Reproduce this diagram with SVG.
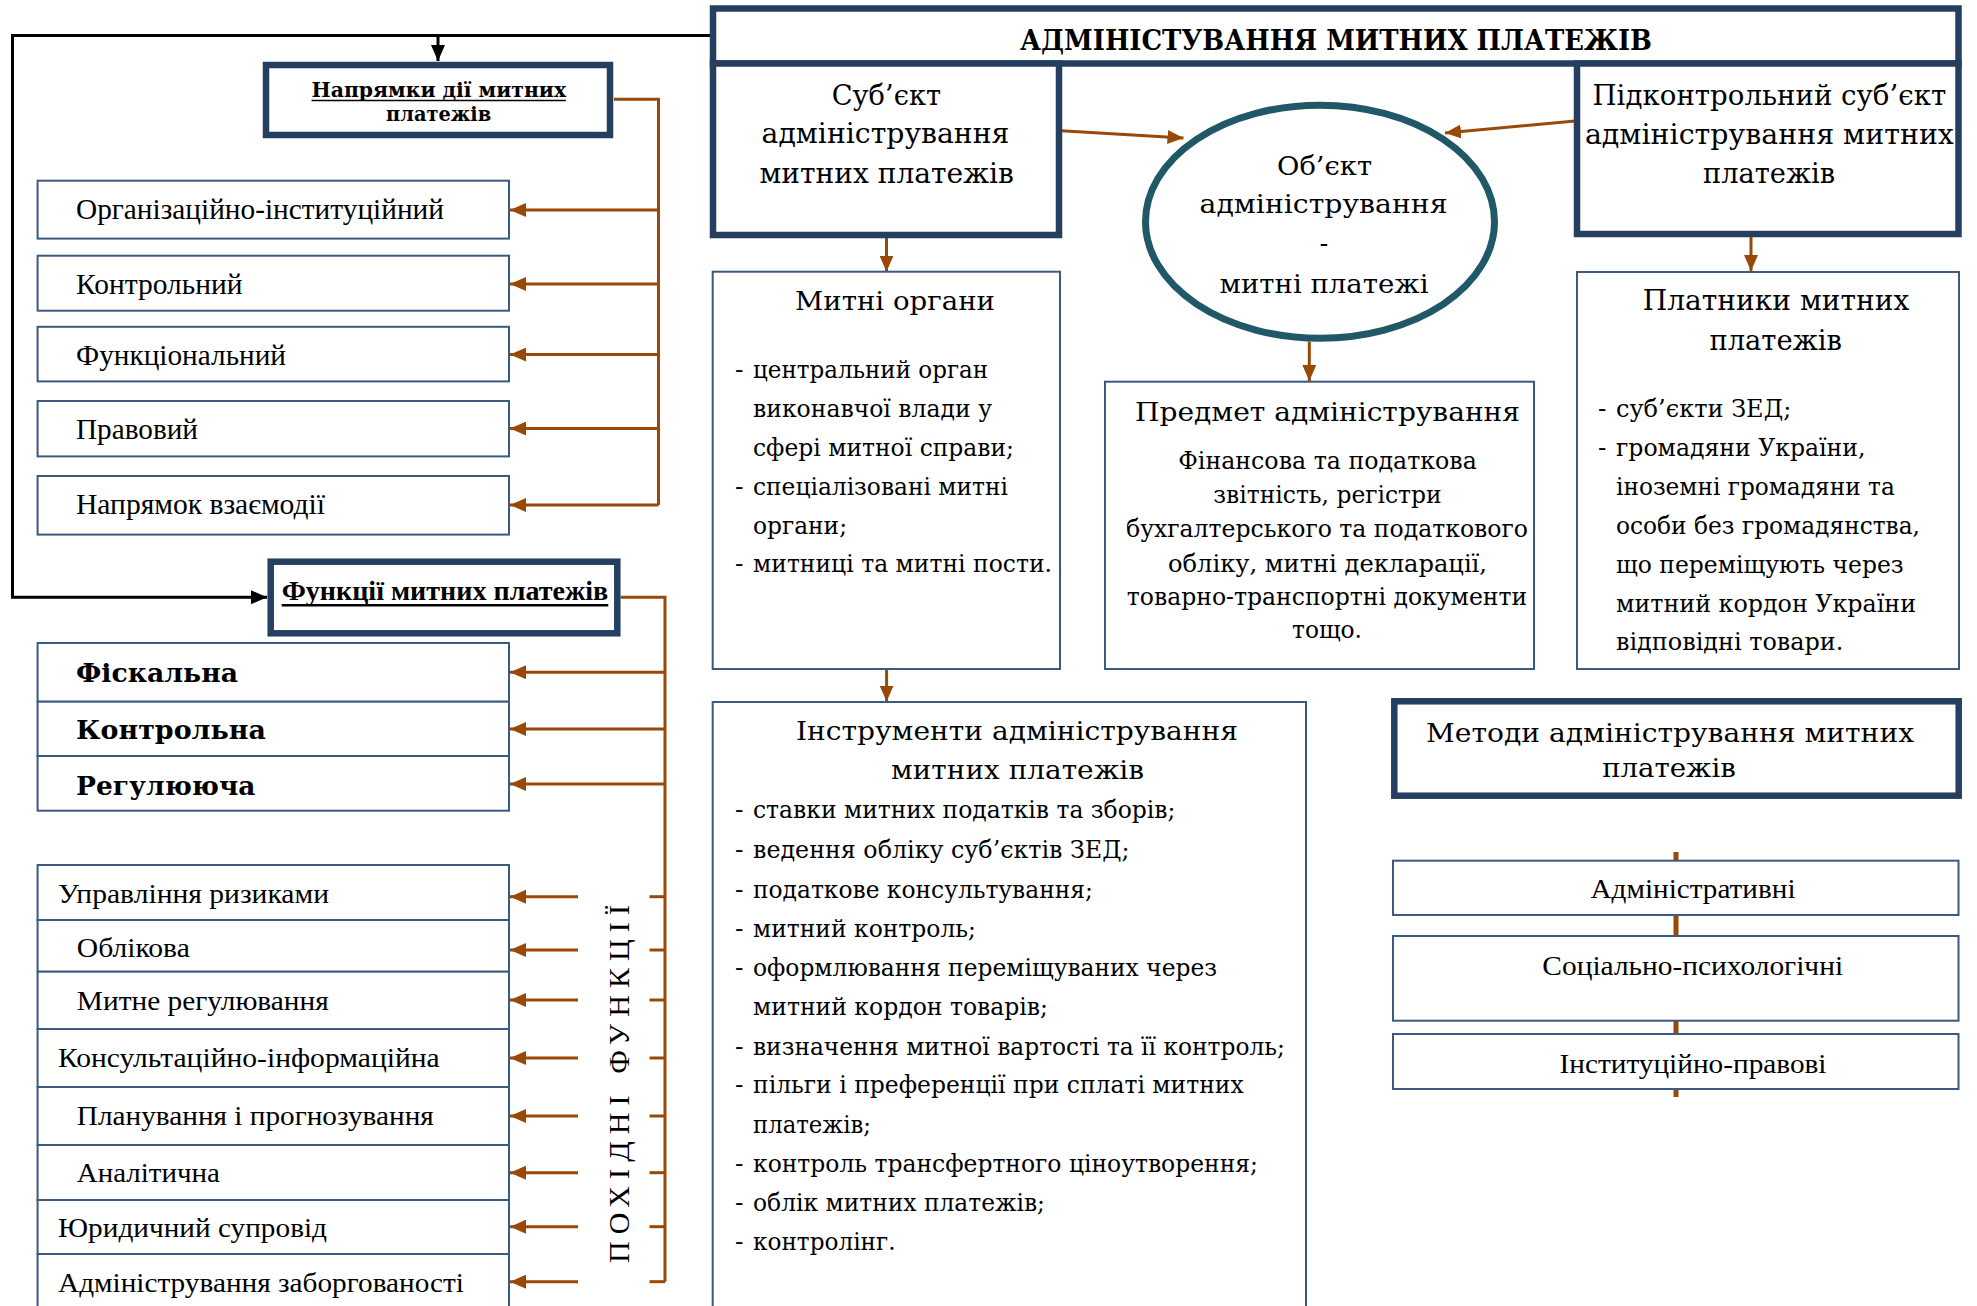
<svg xmlns="http://www.w3.org/2000/svg" width="1977" height="1306" viewBox="0 0 1977 1306">
  <defs>
    <marker id="arrBrown" viewBox="0 0 16 14" refX="16" refY="7" markerWidth="16" markerHeight="14" markerUnits="userSpaceOnUse" orient="auto">
      <path d="M0,0 L16,7 L0,14 z" fill="#984807"/>
    </marker>
    <marker id="arrBlack" viewBox="0 0 16 14" refX="16" refY="7" markerWidth="16" markerHeight="14" markerUnits="userSpaceOnUse" orient="auto">
      <path d="M0,0 L16,7 L0,14 z" fill="#000"/>
    </marker>
  </defs>
  <style>
    .thick{fill:#fff;stroke:#243f60;stroke-width:6.5}
    .thin{fill:#fff;stroke:#3b5a82;stroke-width:2}
    .oval{fill:#fff;stroke:#215868;stroke-width:7}
    .tr{font-family:"Liberation Serif","Times New Roman",serif;fill:#000}
    .bk{font-family:"DejaVu Serif","Liberation Serif",serif;fill:#000}
    .b{font-weight:bold}
    .c{text-anchor:middle}
    .br{fill:none;stroke:#984807;stroke-width:3}
    .brA{fill:none;stroke:#984807;stroke-width:3;marker-end:url(#arrBrown)}
    .blA{fill:none;stroke:#000;stroke-width:3;marker-end:url(#arrBlack)}
    .ul{stroke:#000}
  </style>
  <rect width="1977" height="1306" fill="#fff"/>

  <!-- connectors (drawn first so boxes sit on top) -->
  <g id="connectors">
    <!-- black feed from the main header to both left-hand groups -->
    <path class="blA" d="M710,35.5 H12.5 V597.3 H267"/>
    <path class="blA" d="M438,35.5 V61"/>
    <!-- directions trunk -->
    <path class="br" d="M614,99.3 H658.5 V505"/>
    <path class="brA" d="M658.5,210 H510"/>
    <path class="brA" d="M658.5,284 H510"/>
    <path class="brA" d="M658.5,354.6 H510"/>
    <path class="brA" d="M658.5,428.6 H510"/>
    <path class="brA" d="M658.5,505 H510"/>
    <!-- functions trunk -->
    <path class="br" d="M620.7,597.3 H665 V1281.7"/>
    <path class="brA" d="M665,672.3 H510"/>
    <path class="brA" d="M665,729 H510"/>
    <path class="brA" d="M665,784 H510"/>
    <!-- derived functions: short arrows plus stubs on the trunk -->
    <path class="brA" d="M578,896.7 H510"/><path class="br" d="M649.5,896.7 H665"/>
    <path class="brA" d="M578,950 H510"/><path class="br" d="M649.5,950 H665"/>
    <path class="brA" d="M578,1000 H510"/><path class="br" d="M649.5,1000 H665"/>
    <path class="brA" d="M578,1058 H510"/><path class="br" d="M649.5,1058 H665"/>
    <path class="brA" d="M578,1116 H510"/><path class="br" d="M649.5,1116 H665"/>
    <path class="brA" d="M578,1172.7 H510"/><path class="br" d="M649.5,1172.7 H665"/>
    <path class="brA" d="M578,1226.7 H510"/><path class="br" d="M649.5,1226.7 H665"/>
    <path class="brA" d="M578,1281.7 H510"/><path class="br" d="M649.5,1281.7 H665"/>
    <!-- right-hand block -->
    <path class="brA" d="M1061,130.7 L1183.5,138"/>
    <path class="brA" d="M1575,121 L1445,133"/>
    <path class="brA" d="M886.5,238 V271.7"/>
    <path class="brA" d="M1309.3,341.7 V381"/>
    <path class="brA" d="M1751,237 V271"/>
    <path class="brA" d="M886.6,669 V701.5"/>
    <!-- methods spine -->
    <path d="M1676,852 V1097" stroke="#984807" stroke-width="5" fill="none"/>
  </g>

  <!-- main header -->
  <g id="title">
    <rect class="thick" x="713" y="8.5" width="1245.5" height="55"/>
    <text class="bk b c" x="1336" y="50" font-size="28" textLength="632" lengthAdjust="spacingAndGlyphs">АДМІНІСТУВАННЯ МИТНИХ ПЛАТЕЖІВ</text>
  </g>

  <!-- directions of action -->
  <g id="directions">
    <rect class="thick" x="266" y="65" width="344" height="70"/>
    <text class="bk b c" x="438.8" y="97" font-size="20" textLength="254.5" lengthAdjust="spacingAndGlyphs">Напрямки дії митних</text>
    <line class="ul" x1="311.6" y1="100.5" x2="566" y2="100.5" stroke-width="1.6"/>
    <text class="bk b c" x="438.6" y="121.4" font-size="20" textLength="105" lengthAdjust="spacingAndGlyphs">платежів</text>
  </g>
  <g id="dir-org">
    <rect class="thin" x="37.6" y="180.7" width="471.4" height="57.9"/>
    <text class="tr" x="76" y="218.6" font-size="29" textLength="368" lengthAdjust="spacingAndGlyphs">Організаційно-інституційний</text>
  </g>
  <g id="dir-control">
    <rect class="thin" x="37.6" y="255.7" width="471.4" height="55"/>
    <text class="tr" x="76" y="293.6" font-size="29" textLength="166.5" lengthAdjust="spacingAndGlyphs">Контрольний</text>
  </g>
  <g id="dir-func">
    <rect class="thin" x="37.6" y="326.8" width="471.4" height="54.6"/>
    <text class="tr" x="76" y="365" font-size="29" textLength="210" lengthAdjust="spacingAndGlyphs">Функціональний</text>
  </g>
  <g id="dir-legal">
    <rect class="thin" x="37.6" y="401" width="471.4" height="55.4"/>
    <text class="tr" x="76" y="438.6" font-size="29" textLength="122" lengthAdjust="spacingAndGlyphs">Правовий</text>
  </g>
  <g id="dir-interact">
    <rect class="thin" x="37.6" y="476" width="471.4" height="58.6"/>
    <text class="tr" x="76" y="514.3" font-size="29" textLength="249" lengthAdjust="spacingAndGlyphs">Напрямок взаємодії</text>
  </g>

  <!-- functions -->
  <g id="functions">
    <rect class="thick" x="270.7" y="561.7" width="346.6" height="71.6"/>
    <text class="tr b" x="281.7" y="600" font-size="28" textLength="326.6" lengthAdjust="spacingAndGlyphs">Функції митних платежів</text>
    <line class="ul" x1="281.7" y1="605.3" x2="608.3" y2="605.3" stroke-width="2.5"/>
  </g>
  <g id="fn-fiscal">
    <rect class="thin" x="37.6" y="643" width="471.4" height="58.7"/>
    <text class="bk b" x="76" y="681.7" font-size="26" textLength="162" lengthAdjust="spacingAndGlyphs">Фіскальна</text>
  </g>
  <g id="fn-control">
    <rect class="thin" x="37.6" y="701.7" width="471.4" height="54.3"/>
    <text class="bk b" x="76" y="739" font-size="26" textLength="190" lengthAdjust="spacingAndGlyphs">Контрольна</text>
  </g>
  <g id="fn-regul">
    <rect class="thin" x="37.6" y="756" width="471.4" height="54.7"/>
    <text class="bk b" x="76" y="795" font-size="26" textLength="179.5" lengthAdjust="spacingAndGlyphs">Регулююча</text>
  </g>

  <!-- derived functions -->
  <g id="fn-risk">
    <rect class="thin" x="37.6" y="865" width="471.4" height="55"/>
    <text class="tr" x="58" y="903" font-size="28" textLength="271" lengthAdjust="spacingAndGlyphs">Управління ризиками</text>
  </g>
  <g id="fn-account">
    <rect class="thin" x="37.6" y="920" width="471.4" height="51.7"/>
    <text class="tr" x="76.8" y="956.7" font-size="28" textLength="113" lengthAdjust="spacingAndGlyphs">Облікова</text>
  </g>
  <g id="fn-customs">
    <rect class="thin" x="37.6" y="971.7" width="471.4" height="57.3"/>
    <text class="tr" x="76.8" y="1010" font-size="28" textLength="252" lengthAdjust="spacingAndGlyphs">Митне регулювання</text>
  </g>
  <g id="fn-consult">
    <rect class="thin" x="37.6" y="1029" width="471.4" height="58"/>
    <text class="tr" x="58" y="1066.7" font-size="28" textLength="381.7" lengthAdjust="spacingAndGlyphs">Консультаційно-інформаційна</text>
  </g>
  <g id="fn-plan">
    <rect class="thin" x="37.6" y="1087" width="471.4" height="58"/>
    <text class="tr" x="76.8" y="1125" font-size="28" textLength="357" lengthAdjust="spacingAndGlyphs">Планування і прогнозування</text>
  </g>
  <g id="fn-analytic">
    <rect class="thin" x="37.6" y="1145" width="471.4" height="55"/>
    <text class="tr" x="76.8" y="1181.7" font-size="28" textLength="143" lengthAdjust="spacingAndGlyphs">Аналітична</text>
  </g>
  <g id="fn-legal">
    <rect class="thin" x="37.6" y="1200" width="471.4" height="54"/>
    <text class="tr" x="58" y="1236.7" font-size="28" textLength="269" lengthAdjust="spacingAndGlyphs">Юридичний супровід</text>
  </g>
  <g id="fn-debt">
    <rect class="thin" x="37.6" y="1254" width="471.4" height="70"/>
    <text class="tr" x="58" y="1291.7" font-size="28" textLength="406" lengthAdjust="spacingAndGlyphs">Адміністрування заборгованості</text>
  </g>
  <g id="derived-label">
    <text class="tr" transform="translate(628.6,1263) rotate(-90)" font-size="30" textLength="358" lengthAdjust="spacing">ПОХІДНІ ФУНКЦІЇ</text>
  </g>

  <!-- subject -->
  <g id="subject">
    <rect class="thick" x="713" y="63.5" width="346" height="171.5"/>
    <text class="bk c" x="886.4" y="105" font-size="27" textLength="109.3" lengthAdjust="spacingAndGlyphs">Суб’єкт</text>
    <text class="bk c" x="885.5" y="143" font-size="27" textLength="247.8" lengthAdjust="spacingAndGlyphs">адміністрування</text>
    <text class="bk c" x="886.6" y="182.7" font-size="27" textLength="254.4" lengthAdjust="spacingAndGlyphs">митних платежів</text>
  </g>

  <!-- object -->
  <g id="object">
    <ellipse class="oval" cx="1320" cy="221.7" rx="174.5" ry="116.5"/>
    <text class="bk c" x="1324.5" y="175" font-size="26" textLength="95" lengthAdjust="spacingAndGlyphs">Об’єкт</text>
    <text class="bk c" x="1323.5" y="213" font-size="26" textLength="248" lengthAdjust="spacingAndGlyphs">адміністрування</text>
    <text class="bk c" x="1324" y="252" font-size="26">-</text>
    <text class="bk c" x="1324" y="293.3" font-size="26" textLength="209" lengthAdjust="spacingAndGlyphs">митні платежі</text>
  </g>

  <!-- controlled subject -->
  <g id="controlled">
    <rect class="thick" x="1577" y="63.5" width="381.5" height="170.5"/>
    <text class="bk c" x="1769.4" y="105" font-size="27" textLength="353.8" lengthAdjust="spacingAndGlyphs">Підконтрольний суб’єкт</text>
    <text class="bk c" x="1769.4" y="143.7" font-size="27" textLength="369" lengthAdjust="spacingAndGlyphs">адміністрування митних</text>
    <text class="bk c" x="1769" y="183" font-size="27" textLength="132" lengthAdjust="spacingAndGlyphs">платежів</text>
  </g>

  <!-- customs authorities -->
  <g id="authorities">
    <rect class="thin" x="712.7" y="271.7" width="347.3" height="397.3"/>
    <text class="bk c" x="895" y="310" font-size="26" textLength="200" lengthAdjust="spacingAndGlyphs">Митні органи</text>
    <text class="bk" x="735" y="378.3" font-size="25">-</text>
    <text class="bk" x="753" y="378.3" font-size="25" textLength="235" lengthAdjust="spacingAndGlyphs">центральний орган</text>
    <text class="bk" x="753" y="417" font-size="25" textLength="239" lengthAdjust="spacingAndGlyphs">виконавчої влади у</text>
    <text class="bk" x="753" y="456" font-size="25" textLength="261" lengthAdjust="spacingAndGlyphs">сфері митної справи;</text>
    <text class="bk" x="735" y="494.8" font-size="25">-</text>
    <text class="bk" x="753" y="494.8" font-size="25" textLength="255" lengthAdjust="spacingAndGlyphs">спеціалізовані митні</text>
    <text class="bk" x="753" y="533.6" font-size="25" textLength="94" lengthAdjust="spacingAndGlyphs">органи;</text>
    <text class="bk" x="735" y="572.4" font-size="25">-</text>
    <text class="bk" x="753" y="572.4" font-size="25" textLength="299" lengthAdjust="spacingAndGlyphs">митниці та митні пости.</text>
  </g>

  <!-- subject matter -->
  <g id="matter">
    <rect class="thin" x="1105" y="381.7" width="429" height="287.3"/>
    <text class="bk c" x="1327.5" y="420.7" font-size="26" textLength="385" lengthAdjust="spacingAndGlyphs">Предмет адміністрування</text>
    <text class="bk c" x="1327.5" y="469.3" font-size="24" textLength="298.7" lengthAdjust="spacingAndGlyphs">Фінансова та податкова</text>
    <text class="bk c" x="1327.5" y="503.3" font-size="24" textLength="228.3" lengthAdjust="spacingAndGlyphs">звітність, регістри</text>
    <text class="bk c" x="1327" y="537.3" font-size="24" textLength="402" lengthAdjust="spacingAndGlyphs">бухгалтерського та податкового</text>
    <text class="bk c" x="1327.5" y="571.7" font-size="24" textLength="319" lengthAdjust="spacingAndGlyphs">обліку,  митні декларації,</text>
    <text class="bk c" x="1327" y="605" font-size="24" textLength="400.3" lengthAdjust="spacingAndGlyphs">товарно-транспортні документи</text>
    <text class="bk c" x="1327" y="638.3" font-size="24" textLength="70" lengthAdjust="spacingAndGlyphs">тощо.</text>
  </g>

  <!-- payers -->
  <g id="payers">
    <rect class="thin" x="1577" y="272" width="382" height="397"/>
    <text class="bk c" x="1776" y="310" font-size="27" textLength="266.6" lengthAdjust="spacingAndGlyphs">Платники митних</text>
    <text class="bk c" x="1775.7" y="350" font-size="27" textLength="132.6" lengthAdjust="spacingAndGlyphs">платежів</text>
    <text class="bk" x="1598" y="417" font-size="25">-</text>
    <text class="bk" x="1616" y="417" font-size="25" textLength="175.3" lengthAdjust="spacingAndGlyphs">суб’єкти ЗЕД;</text>
    <text class="bk" x="1598" y="456" font-size="25">-</text>
    <text class="bk" x="1616" y="456" font-size="25" textLength="249.5" lengthAdjust="spacingAndGlyphs">громадяни України,</text>
    <text class="bk" x="1616" y="494.6" font-size="25" textLength="278.8" lengthAdjust="spacingAndGlyphs">іноземні громадяни та</text>
    <text class="bk" x="1616" y="533.5" font-size="25" textLength="304" lengthAdjust="spacingAndGlyphs">особи без громадянства,</text>
    <text class="bk" x="1616" y="572.8" font-size="25" textLength="287.6" lengthAdjust="spacingAndGlyphs">що переміщують через</text>
    <text class="bk" x="1616" y="611.6" font-size="25" textLength="300" lengthAdjust="spacingAndGlyphs">митний кордон України</text>
    <text class="bk" x="1616" y="649.6" font-size="25" textLength="227.4" lengthAdjust="spacingAndGlyphs">відповідні товари.</text>
  </g>

  <!-- instruments -->
  <g id="instruments">
    <rect class="thin" x="712.7" y="702" width="593.3" height="620"/>
    <text class="bk c" x="1017" y="740" font-size="26" textLength="442" lengthAdjust="spacingAndGlyphs">Інструменти адміністрування</text>
    <text class="bk c" x="1017.5" y="779" font-size="26" textLength="253" lengthAdjust="spacingAndGlyphs">митних платежів</text>
    <text class="bk" x="735" y="817.7" font-size="25">-</text>
    <text class="bk" x="753" y="817.7" font-size="25" textLength="422.4" lengthAdjust="spacingAndGlyphs">ставки митних податків та зборів;</text>
    <text class="bk" x="735" y="857.6" font-size="25">-</text>
    <text class="bk" x="753" y="857.6" font-size="25" textLength="376.5" lengthAdjust="spacingAndGlyphs">ведення обліку суб’єктів ЗЕД;</text>
    <text class="bk" x="735" y="897.6" font-size="25">-</text>
    <text class="bk" x="753" y="897.6" font-size="25" textLength="339.9" lengthAdjust="spacingAndGlyphs">податкове консультування;</text>
    <text class="bk" x="735" y="936.7" font-size="25">-</text>
    <text class="bk" x="753" y="936.7" font-size="25" textLength="222.9" lengthAdjust="spacingAndGlyphs">митний контроль;</text>
    <text class="bk" x="735" y="976" font-size="25">-</text>
    <text class="bk" x="753" y="976" font-size="25" textLength="464" lengthAdjust="spacingAndGlyphs">оформлювання переміщуваних через</text>
    <text class="bk" x="753" y="1014.5" font-size="25" textLength="295" lengthAdjust="spacingAndGlyphs">митний кордон товарів;</text>
    <text class="bk" x="735" y="1054.5" font-size="25">-</text>
    <text class="bk" x="753" y="1054.5" font-size="25" textLength="531.8" lengthAdjust="spacingAndGlyphs">визначення митної вартості та її контроль;</text>
    <text class="bk" x="735" y="1093" font-size="25">-</text>
    <text class="bk" x="753" y="1093" font-size="25" textLength="490.7" lengthAdjust="spacingAndGlyphs">пільги і преференції при сплаті митних</text>
    <text class="bk" x="753" y="1133" font-size="25" textLength="118" lengthAdjust="spacingAndGlyphs">платежів;</text>
    <text class="bk" x="735" y="1172" font-size="25">-</text>
    <text class="bk" x="753" y="1172" font-size="25" textLength="505" lengthAdjust="spacingAndGlyphs">контроль трансфертного ціноутворення;</text>
    <text class="bk" x="735" y="1211" font-size="25">-</text>
    <text class="bk" x="753" y="1211" font-size="25" textLength="292" lengthAdjust="spacingAndGlyphs">облік митних платежів;</text>
    <text class="bk" x="735" y="1250" font-size="25">-</text>
    <text class="bk" x="753" y="1250" font-size="25" textLength="142.5" lengthAdjust="spacingAndGlyphs">контролінг.</text>
  </g>

  <!-- methods -->
  <g id="methods">
    <rect class="thick" x="1394.3" y="701.3" width="564.4" height="94.4"/>
    <text class="bk c" x="1670" y="741.7" font-size="26" textLength="488" lengthAdjust="spacingAndGlyphs">Методи адміністрування митних</text>
    <text class="bk c" x="1669" y="776.7" font-size="26" textLength="133.6" lengthAdjust="spacingAndGlyphs">платежів</text>
  </g>
  <g id="m-admin">
    <rect class="thin" x="1393" y="860.7" width="565.5" height="54.3"/>
    <text class="tr c" x="1693" y="898" font-size="28" textLength="205" lengthAdjust="spacingAndGlyphs">Адміністративні</text>
  </g>
  <g id="m-social">
    <rect class="thin" x="1393" y="936" width="565.5" height="84.7"/>
    <text class="tr c" x="1692.7" y="975" font-size="28" textLength="300.8" lengthAdjust="spacingAndGlyphs">Соціально-психологічні</text>
  </g>
  <g id="m-inst">
    <rect class="thin" x="1393" y="1034" width="565.5" height="55"/>
    <text class="tr c" x="1693" y="1072.7" font-size="28" textLength="267" lengthAdjust="spacingAndGlyphs">Інституційно-правові</text>
  </g>
</svg>
